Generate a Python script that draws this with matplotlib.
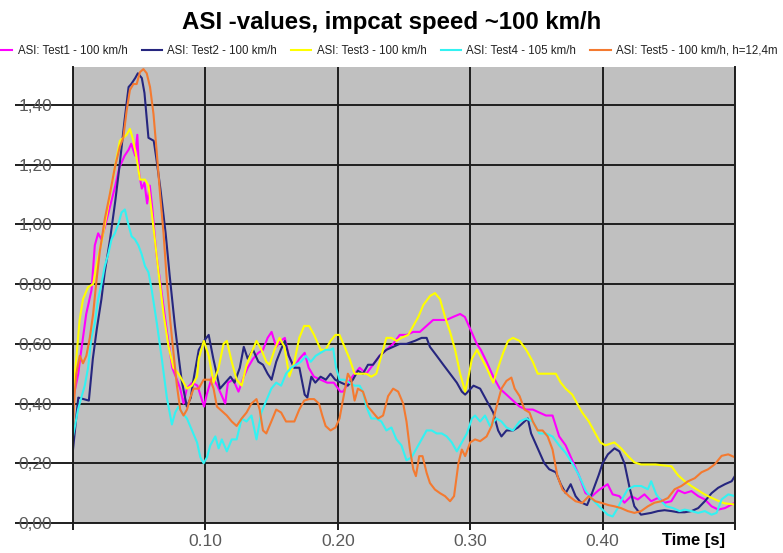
import matplotlib
matplotlib.use("Agg")
import matplotlib.pyplot as plt

plt.rcParams["font.family"] = ["Liberation Sans", "DejaVu Sans"]

# ---------------- data ----------------
TITLE = "ASI -values, impcat speed ~100 km/h"
LABELS = ["ASI: Test1 - 100 km/h", "ASI: Test2 - 100 km/h", "ASI: Test3 - 100 km/h",
          "ASI: Test4 - 105 km/h", "ASI: Test5 - 100 km/h, h=12,4m"]
COLORS = ["#ff00ff", "#26267f", "#ffff00", "#33f2f2", "#f47a30"]

YTICKS = [0.0, 0.2, 0.4, 0.6, 0.8, 1.0, 1.2, 1.4]
XTICKS = [0.0, 0.1, 0.2, 0.3, 0.4, 0.5]
XTICKLABELS = ["", "0.10", "0.20", "0.30", "0.40", ""]

# Test1 (magenta)
T1 = [0.001, 0.004, 0.006, 0.010, 0.014, 0.0165, 0.019, 0.0215, 0.024, 0.028, 0.032, 0.035, 0.039, 0.042,
      0.044, 0.047, 0.0486, 0.050, 0.052, 0.054, 0.056, 0.058, 0.060, 0.063, 0.067, 0.071, 0.075, 0.0785,
      0.081, 0.0835, 0.086, 0.090, 0.094, 0.099, 0.101, 0.105, 0.109, 0.112, 0.115, 0.117, 0.121, 0.125,
      0.129, 0.132, 0.136, 0.140, 0.1435, 0.147, 0.150, 0.1535, 0.157, 0.160, 0.163, 0.167, 0.171, 0.175,
      0.178, 0.182, 0.187, 0.192, 0.197, 0.202, 0.204, 0.208, 0.211, 0.2165, 0.2215, 0.2266, 0.2316, 0.2367,
      0.2418, 0.2468, 0.2519, 0.257, 0.262, 0.267, 0.272, 0.277, 0.282, 0.287, 0.2924, 0.296, 0.300, 0.305,
      0.308, 0.3124, 0.3174, 0.3224, 0.3274, 0.3323, 0.3373, 0.3423, 0.3473, 0.3522, 0.3572, 0.3622, 0.3672,
      0.3721, 0.3771, 0.3821, 0.3871, 0.392, 0.397, 0.4038, 0.4076, 0.4127, 0.4165, 0.4215, 0.4266, 0.4316,
      0.4367, 0.4418, 0.4468, 0.4519, 0.457, 0.462, 0.4671, 0.4722, 0.4772, 0.4823, 0.4873, 0.4924, 0.500]
V1 = [0.435, 0.50, 0.57, 0.70, 0.78, 0.93, 0.97, 0.95, 0.99, 1.06, 1.13, 1.19, 1.23, 1.25,
      1.27, 1.23, 1.30, 1.17, 1.12, 1.14, 1.07, 1.13, 1.05, 0.90, 0.77, 0.64, 0.52, 0.48,
      0.45, 0.40, 0.45, 0.47, 0.46, 0.39, 0.43, 0.49, 0.46, 0.43, 0.40, 0.47, 0.48, 0.44,
      0.49, 0.52, 0.55, 0.57, 0.58, 0.62, 0.64, 0.59, 0.61, 0.62, 0.56, 0.52, 0.55, 0.57,
      0.52, 0.49, 0.48, 0.47, 0.47, 0.44, 0.44, 0.47, 0.49, 0.52, 0.50, 0.53, 0.56, 0.58,
      0.60, 0.63, 0.63, 0.64, 0.64, 0.66, 0.68, 0.68, 0.68, 0.69, 0.70, 0.69, 0.65, 0.60,
      0.58, 0.54, 0.49, 0.45, 0.43, 0.41, 0.39, 0.38, 0.38, 0.37, 0.36, 0.36, 0.29,
      0.26, 0.21, 0.16, 0.10, 0.09, 0.11, 0.13, 0.096, 0.09, 0.068, 0.09, 0.079, 0.096,
      0.073, 0.084, 0.068, 0.073, 0.11, 0.10, 0.107, 0.09, 0.079, 0.056, 0.045, 0.05, 0.068]

# Test2 (dark blue)
T2 = [0.000, 0.004, 0.012, 0.015, 0.018, 0.0215, 0.024, 0.028, 0.032, 0.035, 0.039, 0.042, 0.044, 0.047,
      0.049, 0.052, 0.054, 0.057, 0.061, 0.063, 0.066, 0.070, 0.073, 0.077, 0.080, 0.082, 0.086, 0.089,
      0.091, 0.095, 0.099, 0.1025, 0.106, 0.111, 0.115, 0.119, 0.122, 0.126, 0.129, 0.132, 0.136, 0.140,
      0.1435, 0.147, 0.150, 0.1535, 0.157, 0.160, 0.163, 0.167, 0.171, 0.175, 0.177, 0.180, 0.183, 0.187,
      0.191, 0.1945, 0.198, 0.2025, 0.2076, 0.2114, 0.2152, 0.219, 0.2228, 0.2266, 0.2316, 0.2367, 0.2418,
      0.2468, 0.2519, 0.2582, 0.2633, 0.2671, 0.2696, 0.2747, 0.2797, 0.2848, 0.2899, 0.2937, 0.2962, 0.3025,
      0.3075, 0.3124, 0.3174, 0.3211, 0.3236, 0.3274, 0.3323, 0.3361, 0.341, 0.3435, 0.346, 0.351, 0.356,
      0.3597, 0.3647, 0.3684, 0.3721, 0.3759, 0.3796, 0.3833, 0.3883, 0.392, 0.397, 0.400, 0.404, 0.409,
      0.4127, 0.4165, 0.4203, 0.424, 0.429, 0.4367, 0.4418, 0.4468, 0.4519, 0.457, 0.462, 0.4671, 0.4722,
      0.4772, 0.4823, 0.4873, 0.4924, 0.4975, 0.500]
V2 = [0.245, 0.42, 0.41, 0.55, 0.65, 0.75, 0.84, 0.95, 1.08, 1.19, 1.35, 1.46, 1.47, 1.49,
      1.506, 1.49, 1.44, 1.29, 1.28, 1.22, 1.12, 0.97, 0.83, 0.66, 0.55, 0.48, 0.39, 0.42,
      0.48, 0.58, 0.61, 0.63, 0.55, 0.45, 0.47, 0.49, 0.47, 0.52, 0.59, 0.55, 0.58, 0.54,
      0.53, 0.50, 0.48, 0.54, 0.58, 0.61, 0.56, 0.52, 0.52, 0.43, 0.42, 0.49, 0.47, 0.49,
      0.48, 0.50, 0.48, 0.47, 0.46, 0.48, 0.51, 0.50, 0.53, 0.53, 0.56, 0.58, 0.59,
      0.60, 0.60, 0.61, 0.62, 0.62, 0.59, 0.56, 0.53, 0.50, 0.47, 0.44, 0.43, 0.46,
      0.45, 0.41, 0.37, 0.31, 0.29, 0.31, 0.31, 0.32, 0.34, 0.35, 0.30, 0.25, 0.20,
      0.18, 0.17, 0.13, 0.10, 0.13, 0.09, 0.07, 0.06, 0.10, 0.16, 0.20, 0.23, 0.25,
      0.24, 0.20, 0.12, 0.056, 0.028, 0.034, 0.04, 0.043, 0.04, 0.036, 0.036, 0.04, 0.05,
      0.073, 0.10, 0.118, 0.13, 0.14, 0.158]

# Test3 (yellow)
T3 = [0.000, 0.0025, 0.005, 0.0076, 0.0114, 0.0152, 0.0177, 0.0215, 0.0253, 0.0291, 0.0329, 0.0354, 0.038,
      0.0405, 0.043, 0.0456, 0.0481, 0.0506, 0.0544, 0.057, 0.0608, 0.0646, 0.0684, 0.0722, 0.0759, 0.0797,
      0.0823, 0.0861, 0.0899, 0.0937, 0.095, 0.0988, 0.1025, 0.1062, 0.110, 0.1137, 0.1162, 0.1199, 0.1236,
      0.1274, 0.1311, 0.1348, 0.1386, 0.1423, 0.146, 0.1485, 0.1522, 0.156, 0.1597, 0.1634, 0.1672, 0.1709,
      0.1746, 0.1784, 0.1821, 0.1871, 0.1908, 0.1945, 0.1983, 0.2013, 0.2051, 0.2089, 0.2127, 0.2165, 0.2215,
      0.2253, 0.2291, 0.2329, 0.2367, 0.2405, 0.2443, 0.2481, 0.2532, 0.257, 0.2608, 0.2646, 0.2696, 0.2734,
      0.2772, 0.281, 0.2848, 0.2886, 0.2924, 0.2962, 0.2987, 0.3013, 0.3051, 0.3075, 0.3124, 0.3174, 0.3211,
      0.3249, 0.3286, 0.3323, 0.3373, 0.3423, 0.3473, 0.351, 0.356, 0.3609, 0.3647, 0.3684, 0.3721, 0.3771,
      0.3808, 0.3846, 0.3896, 0.3945, 0.3983, 0.402, 0.4089, 0.414, 0.419, 0.424, 0.429, 0.440, 0.452, 0.457,
      0.462, 0.467, 0.472, 0.477, 0.482, 0.487, 0.492, 0.500]
V3 = [0.435, 0.55, 0.68, 0.75, 0.79, 0.80, 0.86, 0.94, 1.03, 1.13, 1.22, 1.28, 1.29,
      1.30, 1.32, 1.28, 1.22, 1.15, 1.15, 1.13, 0.99, 0.84, 0.70, 0.59, 0.52, 0.50,
      0.48, 0.45, 0.46, 0.49, 0.55, 0.61, 0.56, 0.47, 0.52, 0.60, 0.61, 0.54, 0.48,
      0.46, 0.53, 0.57, 0.61, 0.58, 0.54, 0.53, 0.58, 0.62, 0.59, 0.49, 0.54, 0.62,
      0.66, 0.66, 0.63, 0.58, 0.58, 0.61, 0.63, 0.63, 0.59, 0.55, 0.50, 0.50, 0.50,
      0.49, 0.50, 0.56, 0.62, 0.62, 0.61, 0.62, 0.63, 0.66, 0.69, 0.73, 0.76, 0.77,
      0.75, 0.69, 0.64, 0.58, 0.50, 0.44, 0.49, 0.55, 0.58, 0.56, 0.52, 0.47, 0.52,
      0.57, 0.61, 0.62, 0.61, 0.58, 0.54, 0.50, 0.50, 0.50, 0.50, 0.47, 0.45, 0.43,
      0.40, 0.37, 0.34, 0.30, 0.27, 0.26, 0.27, 0.25, 0.225, 0.203, 0.196, 0.196, 0.19, 0.16,
      0.14, 0.124, 0.11, 0.096, 0.085, 0.075, 0.066, 0.062]

# Test4 (cyan)
T4 = [0.000, 0.0013, 0.0038, 0.0063, 0.0089, 0.0114, 0.0139, 0.0165, 0.019, 0.0215, 0.024, 0.0266, 0.0291,
      0.0316, 0.0342, 0.0367, 0.0392, 0.0418, 0.0443, 0.0468, 0.0494, 0.0519, 0.0544, 0.057, 0.0595, 0.0633,
      0.0671, 0.0709, 0.0747, 0.0772, 0.0797, 0.0823, 0.0861, 0.0899, 0.0937, 0.0962, 0.0987, 0.1012, 0.1037,
      0.1075, 0.110, 0.1124, 0.1162, 0.1199, 0.1236, 0.1274, 0.1311, 0.1348, 0.1386, 0.1423, 0.146, 0.1498,
      0.1535, 0.1572, 0.1609, 0.1647, 0.1684, 0.1721, 0.1759, 0.1796, 0.1833, 0.1871, 0.1908, 0.1945, 0.1965,
      0.1987, 0.2013, 0.2051, 0.2089, 0.2127, 0.2165, 0.219, 0.2215, 0.2253, 0.2291, 0.2329, 0.2367, 0.2405,
      0.2443, 0.2481, 0.2519, 0.2557, 0.2595, 0.2633, 0.2671, 0.2709, 0.2747, 0.2785, 0.2823, 0.2861, 0.2899,
      0.2937, 0.2975, 0.3013, 0.3037, 0.3075, 0.3112, 0.3149, 0.3199, 0.3236, 0.3274, 0.3323, 0.3373, 0.3423,
      0.3473, 0.3522, 0.3572, 0.3622, 0.3672, 0.3721, 0.3771, 0.3821, 0.3871, 0.392, 0.3987, 0.4038, 0.4076,
      0.4114, 0.4152, 0.419, 0.424, 0.4291, 0.4342, 0.4367, 0.4405, 0.4443, 0.4481, 0.4532, 0.4582, 0.462,
      0.4671, 0.4722, 0.4772, 0.4823, 0.4861, 0.4899, 0.4949, 0.500]
V4 = [0.29, 0.32, 0.38, 0.42, 0.46, 0.52, 0.62, 0.67, 0.75, 0.80, 0.86, 0.90, 0.95,
      0.97, 1.00, 1.04, 1.05, 1.00, 0.96, 0.95, 0.93, 0.90, 0.86, 0.84, 0.78, 0.67,
      0.55, 0.42, 0.33, 0.37, 0.39, 0.37, 0.35, 0.31, 0.27, 0.22, 0.20, 0.22, 0.26,
      0.29, 0.25, 0.28, 0.24, 0.28, 0.28, 0.35, 0.34, 0.36, 0.28, 0.37, 0.41, 0.45,
      0.47, 0.46, 0.50, 0.52, 0.53, 0.54, 0.56, 0.54, 0.56, 0.57, 0.58, 0.58, 0.585,
      0.52, 0.48, 0.48, 0.47, 0.46, 0.46, 0.44, 0.39, 0.35, 0.35, 0.34, 0.31, 0.32,
      0.28, 0.26, 0.21, 0.22, 0.25, 0.28, 0.31, 0.31, 0.30, 0.30, 0.29, 0.27, 0.24,
      0.27, 0.30, 0.35, 0.36, 0.34, 0.36, 0.325, 0.35, 0.34, 0.32, 0.31, 0.34, 0.35,
      0.34, 0.30, 0.30, 0.29, 0.26, 0.235, 0.20, 0.16, 0.11, 0.08, 0.05, 0.028, 0.022,
      0.05, 0.084, 0.113, 0.124, 0.124, 0.113, 0.14, 0.096, 0.073, 0.056, 0.05, 0.04, 0.045,
      0.04, 0.034, 0.04, 0.028, 0.034, 0.079, 0.096, 0.09]

# Test5 (orange)
T5 = [0.000, 0.0013, 0.0025, 0.0051, 0.0076, 0.0101, 0.0127, 0.0152, 0.0177, 0.0203, 0.0241, 0.0278, 0.0316,
      0.0354, 0.038, 0.0405, 0.043, 0.0456, 0.0481, 0.0506, 0.0532, 0.0557, 0.0582, 0.0608, 0.0633, 0.0658,
      0.0684, 0.0709, 0.0734, 0.0759, 0.0785, 0.081, 0.0835, 0.0861, 0.0886, 0.0911, 0.0949, 0.0987, 0.1037,
      0.1062, 0.1087, 0.1124, 0.1162, 0.1199, 0.1236, 0.1274, 0.1311, 0.1348, 0.1386, 0.141, 0.1435, 0.146,
      0.1498, 0.1535, 0.1572, 0.1609, 0.1647, 0.1672, 0.1709, 0.1746, 0.1784, 0.1821, 0.1858, 0.1883, 0.1908,
      0.1945, 0.1983, 0.2013, 0.2051, 0.2076, 0.2101, 0.2127, 0.2152, 0.219, 0.2228, 0.2266, 0.2304, 0.2342,
      0.238, 0.2418, 0.2456, 0.2494, 0.2519, 0.2544, 0.257, 0.259, 0.2615, 0.264, 0.2671, 0.2696, 0.2734,
      0.2772, 0.281, 0.2848, 0.2878, 0.2911, 0.2937, 0.2962, 0.300, 0.3037, 0.3075, 0.3124, 0.3162, 0.3199,
      0.3236, 0.3274, 0.3311, 0.3336, 0.3373, 0.341, 0.3448, 0.3473, 0.351, 0.3547, 0.3585, 0.3622, 0.3659,
      0.3697, 0.3746, 0.3796, 0.3846, 0.3896, 0.3945, 0.3995, 0.4045, 0.4089, 0.4139, 0.419, 0.424, 0.4291,
      0.4342, 0.4392, 0.4443, 0.4494, 0.4544, 0.4595, 0.4646, 0.4696, 0.4747, 0.4797, 0.4848, 0.4899, 0.4949,
      0.500]
V5 = [0.32, 0.435, 0.50, 0.56, 0.535, 0.56, 0.62, 0.70, 0.81, 0.91, 1.02, 1.10, 1.19,
      1.26, 1.29, 1.38, 1.45, 1.47, 1.47, 1.51, 1.52, 1.506, 1.46, 1.37, 1.24, 1.10,
      0.97, 0.81, 0.68, 0.57, 0.46, 0.38, 0.36, 0.38, 0.42, 0.45, 0.45, 0.48, 0.48,
      0.45, 0.39, 0.375, 0.36, 0.34, 0.325, 0.35, 0.37, 0.40, 0.415, 0.38, 0.31, 0.30,
      0.34, 0.38, 0.37, 0.34, 0.34, 0.34, 0.38, 0.41, 0.415, 0.415, 0.40, 0.36, 0.325,
      0.31, 0.32, 0.35, 0.44, 0.50, 0.48, 0.41, 0.45, 0.44, 0.39, 0.37, 0.35, 0.36,
      0.425, 0.45, 0.44, 0.40, 0.34, 0.25, 0.18, 0.157, 0.224, 0.224, 0.168, 0.134, 0.112,
      0.10, 0.09, 0.073, 0.09, 0.20, 0.246, 0.224, 0.27, 0.28, 0.274, 0.29, 0.325, 0.39,
      0.45, 0.476, 0.487, 0.45, 0.425, 0.38, 0.37, 0.34, 0.31, 0.31, 0.29, 0.246, 0.157,
      0.112, 0.09, 0.073, 0.067, 0.09, 0.073, 0.067, 0.06, 0.056, 0.05, 0.04, 0.034, 0.04,
      0.056, 0.068, 0.073, 0.084, 0.113, 0.124, 0.14, 0.15, 0.17, 0.18, 0.197, 0.225, 0.23,
      0.22]

SERIES = [(T1, V1), (T2, V2), (T3, V3), (T4, V4), (T5, V5)]

# ---------------- figure ----------------
fig = plt.figure(figsize=(7.83, 5.53), dpi=100)
ax = fig.add_axes([0.0932, 0.0542, 0.8455, 0.8246])
ax.set_facecolor("#c0c0c0")

for (t, v), lab, col in zip(SERIES, LABELS, COLORS):
    ax.plot(t, v, color=col, lw=1.5, label=lab)

ax.set_xlim(0, 0.5)
ax.set_ylim(0, 1.527)

ax.set_yticks(YTICKS)
ax.set_yticklabels([f"{y:.2f}".replace(".", ",") for y in YTICKS])
ax.set_xticks(XTICKS)
ax.set_xticklabels(XTICKLABELS)

ax.grid(True, color="#1e1e1e", lw=1.4)
ax.set_axisbelow(True)

ax.tick_params(axis="y", direction="out", length=42, width=1.4, color="#1e1e1e",
               pad=-27, labelsize=12.5, labelcolor="#5a5a5a")
ax.tick_params(axis="x", direction="out", length=5, width=1.4, color="#1e1e1e",
               pad=3, labelsize=12.5, labelcolor="#5a5a5a")

for s in ["left", "bottom", "right"]:
    ax.spines[s].set_color("#1e1e1e")
    ax.spines[s].set_linewidth(1.4)
ax.spines["top"].set_visible(False)

ax.set_xlabel("Time [s]", fontsize=12, fontweight="bold", ha="right", va="top")
ax.xaxis.set_label_coords(0.985, -0.022)

fig.suptitle(TITLE, x=0.5, y=0.96, va="center", fontsize=17.3, fontweight="bold")

ax.legend(loc="center left", bbox_to_anchor=(-0.01, 0.908), bbox_transform=fig.transFigure,
          ncol=5, frameon=False, fontsize=8.3, handlelength=1.75, handletextpad=0.45,
          columnspacing=1.25, borderpad=0, borderaxespad=0, labelcolor="#222222")

fig.savefig("out.png", dpi=100)
